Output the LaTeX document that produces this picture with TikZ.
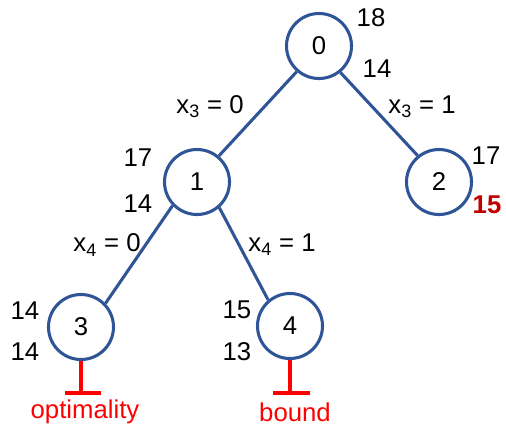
\documentclass[tikz,border=0pt]{standalone}
\usepackage{fontspec}
\setmainfont{Liberation Sans}
\definecolor{nodeblue}{RGB}{47,85,151}
\definecolor{boundred}{RGB}{255,0,0}
\definecolor{darkred}{RGB}{192,0,0}
\begin{document}
\begin{tikzpicture}[x=0.75pt,y=-0.75pt,
  bb/.style={circle,draw=nodeblue,line width=2.3pt,minimum size=48.75pt,inner sep=0pt,font=\fontsize{19.3}{20}\selectfont},
  edge/.style={draw=nodeblue,line width=2.3pt},
  lbl/.style={font=\fontsize{19.3}{20}\selectfont,inner sep=0pt},
  prune/.style={draw=boundred,line width=2.3pt},
  redtxt/.style={font=\fontsize{19.3}{20}\selectfont,text=boundred,inner sep=0pt}]
\useasboundingbox (0,0) rectangle (506,429);
\node[bb] (n0) at (319,46) {0};
\node[bb] (n1) at (197,182) {1};
\node[bb] (n2) at (439,182) {2};
\node[bb] (n3) at (81,327) {3};
\node[bb] (n4) at (290,326) {4};
\draw[edge] (n0.229) -- (n1.50);
\draw[edge] (n0.-51) -- (n2.129);
\draw[edge] (n1.224) -- (n3.44);
\draw[edge] (n1.-49) -- (n4.130);
% edge labels
\node[lbl] (e01) at (210,107) {x\textsubscript{3} = 0};
\node[lbl] (e02) at (422,107) {x\textsubscript{3} = 1};
\node[lbl] (e13) at (107,245) {x\textsubscript{4} = 0};
\node[lbl] (e14) at (282,245) {x\textsubscript{4} = 1};
% bounds
\node[lbl] (u0) at (371,18) {18};
\node[lbl] (l0) at (377,69) {14};
\node[lbl] (u1) at (138,158) {17};
\node[lbl] (l1) at (138,204) {14};
\node[lbl] (u2) at (486,156) {17};
\node[lbl,text=darkred,font=\fontsize{19.3}{20}\selectfont\bfseries] (l2) at (487,205) {15};
\node[lbl] (u3) at (25,311) {14};
\node[lbl] (l3) at (25,352) {14};
\node[lbl] (u4) at (237,310) {15};
\node[lbl] (l4) at (237,352) {13};
% pruning marks
\coordinate (t3) at (81,393);
\coordinate (t3a) at (65,393);
\coordinate (t3b) at (101,393);
\draw[prune] (n3.south) -- (t3);
\draw[prune] (t3a) -- (t3b);
\coordinate (t4) at (290,393);
\coordinate (t4a) at (273,393);
\coordinate (t4b) at (310,393);
\draw[prune] (n4.south) -- (t4);
\draw[prune] (t4a) -- (t4b);
\node[redtxt] (r3) at (85,412) {optimality};
\node[redtxt] (r4) at (295,412) {bound};
\end{tikzpicture}
\end{document}
